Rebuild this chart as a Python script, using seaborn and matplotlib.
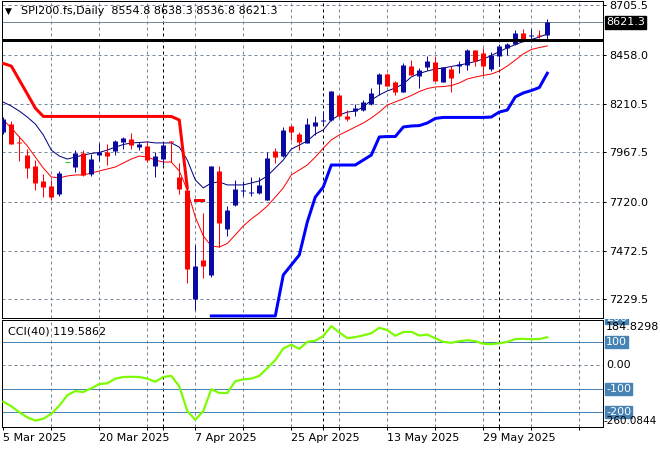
import numpy as np
import pandas as pd
import matplotlib
matplotlib.use("Agg")
import matplotlib.pyplot as plt
import matplotlib.transforms as mtransforms
import seaborn as sns

# ---------------- data ----------------
symbol_text = "SPI200.fs,Daily"
ohlc_text = "8554.8 8638.3 8536.8 8621.3"
cci_text = "CCI(40) 119.5862"

bar_open = [8070, 8112, 8022, 7954, 7899, 7826, 7799, 7758, 7919, 7894,
            7964, 7859, 7952, 7967, 7972, 8020, 8037, 7992, 8002, 7899,
            7934, 8022, 7844, 7779, 7231, 7427, 7354, 7874, 7585, 7703,
            7774, 7761, 7761, 7728, 7974, 7947, 8100, 8060, 8017, 8102,
            8128, 8130, 8256, 8148, 8173, 8180, 8208, 8313, 8361, 8323,
            8273, 8401, 8349, 8396, 8419, 8323, 8384, 8399, 8406, 8482,
            8469, 8384, 8449, 8494, 8512, 8565, 8554, 8559, 8554.8]
bar_high = [8145, 8125, 8050, 7984, 7927, 7859, 7829, 7874, 7919, 7977,
            7979, 7959, 8017, 8012, 8030, 8047, 8067, 8022, 8027, 7969,
            8022, 8025, 7912, 7804, 7502, 7663, 7899, 7897, 7698, 7829,
            7824, 7846, 7844, 7969, 7989, 8095, 8105, 8072, 8138, 8148,
            8175, 8278, 8258, 8178, 8210, 8233, 8291, 8364, 8364, 8326,
            8414, 8429, 8389, 8449, 8449, 8396, 8401, 8424, 8489, 8484,
            8494, 8474, 8512, 8519, 8580, 8585, 8585, 8582, 8638.3]
bar_low = [8060, 8010, 7922, 7839, 7778, 7743, 7728, 7748, 7919, 7871,
           7851, 7851, 7922, 7902, 7954, 7984, 7984, 7977, 7919, 7846,
           7904, 7919, 7758, 7312, 7176, 7337, 7344, 7490, 7545, 7696,
           7746, 7746, 7758, 7726, 7912, 7944, 8030, 7977, 8015, 8057,
           8113, 8123, 8145, 8123, 8150, 8175, 8205, 8256, 8301, 8256,
           8271, 8354, 8291, 8381, 8326, 8321, 8273, 8364, 8379, 8399,
           8356, 8376, 8401, 8454, 8509, 8524, 8524, 8544, 8536.8]
bar_close = [8135, 8012, 8015, 7889, 7816, 7796, 7743, 7866, 7919, 7962,
             7854, 7934, 7967, 7947, 8025, 8040, 8005, 8010, 7927, 7949,
             8005, 8018, 7786, 7384, 7397, 7399, 7897, 7615, 7678, 7786,
             7779, 7766, 7804, 7937, 7942, 8080, 8072, 8022, 8108, 8118,
             8130, 8276, 8150, 8133, 8188, 8218, 8268, 8359, 8303, 8273,
             8406, 8356, 8381, 8424, 8328, 8394, 8339, 8411, 8484, 8424,
             8401, 8459, 8502, 8514, 8565, 8539, 8557, 8554, 8621.3]

ma_fast = [8220, 8200, 8175, 8145, 8110, 8055, 7979, 7949, 7934, 7944,
           7954, 7962, 7967, 7979, 7994, 8007, 8015, 8017, 8020, 8015,
           8015, 8015, 7994, 7929, 7829, 7789, 7814, 7819, 7804, 7804,
           7804, 7814, 7824, 7849, 7889, 7929, 7984, 8004, 8025, 8060,
           8080, 8130, 8155, 8170, 8175, 8195, 8230, 8256, 8276, 8291,
           8311, 8346, 8364, 8376, 8386, 8391, 8399, 8406, 8414, 8424,
           8436, 8454, 8474, 8492, 8509, 8524, 8534, 8547, 8562]
ma_slow = [8130, 8090, 8045, 8000, 7944, 7889, 7844, 7839, 7849, 7854,
           7854, 7864, 7874, 7884, 7894, 7914, 7934, 7949, 7944, 7929,
           7919, 7919, 7874, 7779, 7643, 7548, 7497, 7492, 7510, 7553,
           7598, 7633, 7663, 7698, 7743, 7789, 7854, 7879, 7904, 7944,
           7989, 8030, 8055, 8075, 8095, 8115, 8140, 8170, 8205, 8221,
           8236, 8253, 8273, 8288, 8296, 8298, 8303, 8316, 8336, 8346,
           8354, 8361, 8376, 8401, 8431, 8462, 8484, 8494, 8502]

stop_down_start = 0
stop_down = [8414, 8401, 8331, 8261, 8190, 8148, 8148, 8148, 8148, 8148,
             8148, 8148, 8148, 8148, 8148, 8148, 8148, 8148, 8148, 8148,
             8148, 8148, 8130, 7789]
stop_down_tail_start = 24
stop_down_tail = [7728, 7728]
stop_up_start = 26
stop_up = [7146, 7146, 7146, 7146, 7146, 7146, 7146, 7146, 7146,
           7352, 7402, 7452, 7618, 7743, 7794, 7904, 7904, 7904, 7904,
           7929, 7954, 8045, 8047, 8047, 8095, 8100, 8102, 8115, 8138,
           8143, 8143, 8143, 8143, 8143, 8143, 8145, 8170, 8180, 8246,
           8266, 8278, 8293, 8365]

cci_values = [-155, -175, -200, -222, -236, -228, -207, -172, -128, -110,
              -114, -98, -80, -77, -57, -50, -49, -50, -57, -70,
              -50, -45, -90, -195, -233, -195, -102, -118, -118, -68,
              -60, -57, -45, -12, 22, 72, 88, 70, 100, 105,
              125, 167, 140, 116, 120, 128, 137, 160, 150, 126,
              142, 143, 127, 131, 115, 100, 96, 103, 107, 103,
              92, 90, 94, 100, 112, 113, 111, 112, 119.5862]
cci_levels = [100, -100, -200, 200]
cci_max_label = 184.8298
cci_min_label = -260.0844

price_ticks = [7229.5, 7472.5, 7720.0, 7967.5, 8210.5, 8458.0, 8705.5]
bid_price = 8621.3
hline_level = 8534

date_label_bars = [0, 12, 24, 36, 48, 60]
date_labels = ["5 Mar 2025", "20 Mar 2025", "7 Apr 2025",
               "25 Apr 2025", "13 May 2025", "29 May 2025"]
minor_tick_bars = [6, 18, 30, 42, 54, 66, 72]
separator_bars = [20, 40, 62]

# ---------------- styling ----------------
BULL = "#0a0aa0"
BEAR = "#ff0000"
DOJI = "#22dd22"
GRID = "#778899"
PX = 0.72  # one pixel in points at 100 dpi

W, H = 660, 450
fig = plt.figure(figsize=(W / 100, H / 100), dpi=100)
fig.patch.set_facecolor("white")
plt.rcParams["font.family"] = ["DejaVu Sans"]


def rect(l, t, r, b):
    return [l / W, 1 - b / H, (r - l) / W, (b - t) / H]


ax = fig.add_axes(rect(2, 1, 603, 318))
cx = fig.add_axes(rect(2, 320, 603, 427))

n = len(bar_close)
bars = np.arange(n)
XLIM = (-0.1625, 74.9625)
MAIN_YLIM = (7135.7, 8727.7)
CCI_YLIM = (-263.3, 193.3)

for a in (ax, cx):
    a.set_facecolor("white")
    for s in a.spines.values():
        s.set_color("black")
        s.set_linewidth(PX)

dash = (0, (3, 3))

# grids
for gx in minor_tick_bars + date_label_bars[1:]:
    ax.axvline(gx, color=GRID, lw=PX, ls=dash, zorder=1)
    cx.axvline(gx, color=GRID, lw=PX, ls=dash, zorder=1)
for gy in price_ticks:
    ax.axhline(gy, color=GRID, lw=PX, ls=dash, zorder=1)
cx.axhline(0, color=GRID, lw=PX, ls=dash, zorder=1)
for sb in separator_bars:
    ax.axvline(sb, color="black", lw=PX, ls=dash, zorder=2)
    cx.axvline(sb, color="black", lw=PX, ls=dash, zorder=2)

# reference lines
ax.axhline(bid_price, color=GRID, lw=PX, zorder=2)
ax.axhline(hline_level, color="black", lw=3 * PX, zorder=7)

# indicator lines with seaborn
df = pd.DataFrame({"bar": bars, "ma_fast": ma_fast, "ma_slow": ma_slow, "cci": cci_values})
sns.lineplot(data=df, x="bar", y="ma_fast", ax=ax, color="#000080", linewidth=PX,
             estimator=None, sort=False, legend=False, zorder=3)
sns.lineplot(data=df, x="bar", y="ma_slow", ax=ax, color="#ff0000", linewidth=PX,
             estimator=None, sort=False, legend=False, zorder=3)
sd = pd.DataFrame({"bar": np.arange(stop_down_start, stop_down_start + len(stop_down)), "v": stop_down})
sns.lineplot(data=sd, x="bar", y="v", ax=ax, color="#ff0000", linewidth=3 * PX,
             estimator=None, sort=False, legend=False, zorder=3)
sdt = pd.DataFrame({"bar": np.arange(stop_down_tail_start, stop_down_tail_start + len(stop_down_tail)),
                    "v": stop_down_tail})
sns.lineplot(data=sdt, x="bar", y="v", ax=ax, color="#ff0000", linewidth=3 * PX,
             estimator=None, sort=False, legend=False, zorder=3)
su = pd.DataFrame({"bar": np.arange(stop_up_start, stop_up_start + len(stop_up)), "v": stop_up})
sns.lineplot(data=su, x="bar", y="v", ax=ax, color="#0000ff", linewidth=3 * PX,
             estimator=None, sort=False, legend=False, zorder=3)

# candles
o = np.array(bar_open, float)
h = np.array(bar_high, float)
l = np.array(bar_low, float)
c = np.array(bar_close, float)
col = np.where(c > o, BULL, np.where(c < o, BEAR, DOJI))
px_price = (MAIN_YLIM[1] - MAIN_YLIM[0]) / 317.0
m = c != o
ax.vlines(bars[m], l[m], h[m], colors=col[m], lw=PX, zorder=5)
mid = (o + c) / 2
half = np.maximum(np.abs(o - c) / 2, px_price / 2)
ax.vlines(bars[m], (mid - half)[m], (mid + half)[m], colors=col[m], lw=5 * PX, zorder=6)
d = ~m
ax.hlines(c[d], bars[d] - 0.32, bars[d] + 0.32, colors=DOJI, lw=PX, zorder=6)

# CCI
for lv in cci_levels:
    cx.axhline(lv, color="#4682b4", lw=PX, zorder=2)
sns.lineplot(data=df, x="bar", y="cci", ax=cx, color="#7cfc00", linewidth=2.2 * PX,
             estimator=None, sort=False, legend=False, zorder=4)

# limits & axes
for a in (ax, cx):
    a.set_xlim(*XLIM)
    a.set_xlabel("")
    a.set_ylabel("")
ax.set_ylim(*MAIN_YLIM)
cx.set_ylim(*CCI_YLIM)

ax.tick_params(axis="x", bottom=False, labelbottom=False)
ax.yaxis.tick_right()
ax.set_yticks(price_ticks)
ax.set_yticklabels([f"{v:.1f}" for v in price_ticks])
ax.tick_params(axis="y", direction="out", length=3 * PX, width=PX, pad=3 * PX,
               labelsize=8, colors="black")

cx.tick_params(axis="y", left=False, right=False, labelleft=False, labelright=False)
cx.set_xticks(date_label_bars)
cx.set_xticklabels(date_labels)
cx.set_xticks(minor_tick_bars + separator_bars, minor=True)
cx.tick_params(axis="x", which="both", direction="out", length=3 * PX, width=PX,
               pad=2, labelsize=8, colors="black")
for t in cx.get_xticklabels():
    t.set_ha("left")

# right-side labels
xr = (606 - 2) / (603 - 2)
tr_main = mtransforms.blended_transform_factory(ax.transAxes, ax.transData)
ax.text(xr, bid_price, f"{bid_price:.1f}", transform=tr_main, fontsize=8, color="white",
        va="center", ha="left", clip_on=False, zorder=10,
        bbox=dict(boxstyle="square,pad=0.12", fc="black", ec="black"))

tr_cci = mtransforms.blended_transform_factory(cx.transAxes, cx.transData)
clip = mtransforms.TransformedBbox(mtransforms.Bbox([[603, 0], [660, H - 319]]),
                                   mtransforms.IdentityTransform())
for lv in cci_levels:
    t = cx.text(xr, lv, f"{lv}", transform=tr_cci, fontsize=8, color="white",
                va="center", ha="left", zorder=10,
                bbox=dict(boxstyle="square,pad=0.08", fc="#4682b4", ec="#4682b4"))
    t.set_clip_on(True)
    t.set_clip_box(clip)
cx.text(xr, 0, "0.00", transform=tr_cci, fontsize=8, color="black", va="center",
        ha="left", clip_on=False)
cx.text(xr, cci_max_label, f"{cci_max_label:.4f}", transform=tr_cci, fontsize=8,
        color="black", va="top", ha="left", clip_on=False, zorder=11)
xr_min = (604 - 2) / (603 - 2)
cx.text(xr_min, cci_min_label, f"{cci_min_label:.4f}", transform=tr_cci, fontsize=7.5,
        color="black", va="bottom", ha="left", clip_on=False, zorder=11)

# titles
fig.text(5 / W, 1 - 11.5 / H, "\u25bc", fontsize=6.5, color="black", va="center", ha="left")
fig.text(21 / W, 1 - 11.5 / H, f"{symbol_text}  {ohlc_text}", fontsize=8, color="black",
         va="center", ha="left")
cx.text(6 / 601, 1 - 12 / 107, cci_text, transform=cx.transAxes, fontsize=8,
        color="black", va="center", ha="left", zorder=10)

fig.savefig("out.png", dpi=100, facecolor="white")
